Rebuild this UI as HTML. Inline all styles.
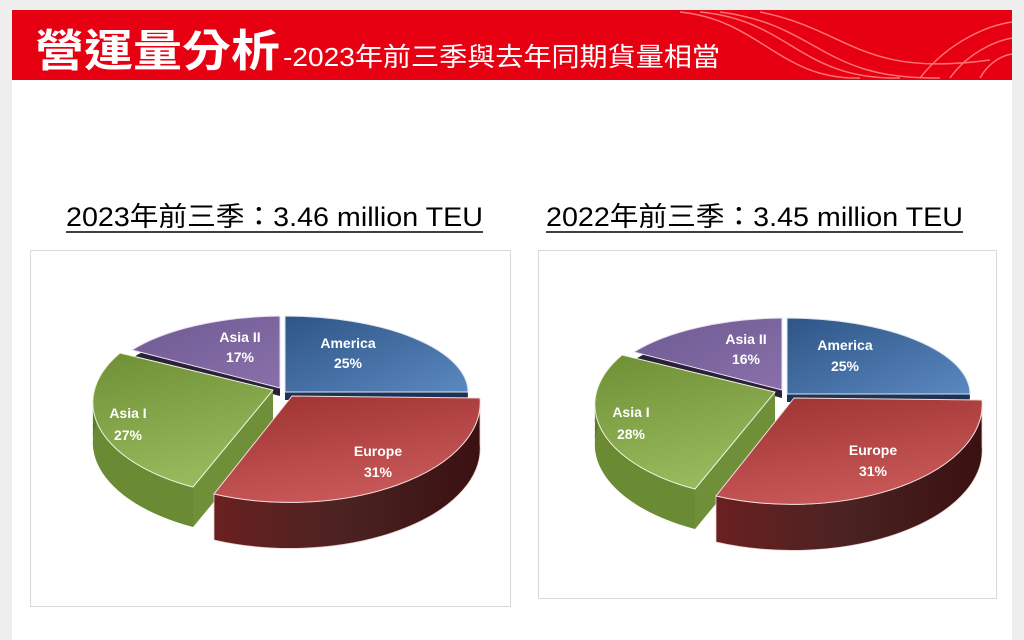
<!DOCTYPE html>
<html><head><meta charset="utf-8"><style>
body{margin:0;width:1024px;height:640px;background:#eeeeee;overflow:hidden;font-family:"Liberation Sans","Noto Sans CJK TC",sans-serif}
</style></head><body>
<svg width="1024" height="640" xmlns="http://www.w3.org/2000/svg" style="position:absolute;left:0;top:0">
<defs>
<linearGradient id="am" x1="0" y1="0" x2="1" y2="1"><stop offset="0" stop-color="#2f5586"/><stop offset="1" stop-color="#5a88c0"/></linearGradient>
<linearGradient id="eu" x1="0" y1="0" x2="0.4" y2="1"><stop offset="0" stop-color="#9c3230"/><stop offset="1" stop-color="#c85858"/></linearGradient>
<linearGradient id="eus" x1="0" y1="0" x2="1" y2="0"><stop offset="0" stop-color="#6a2020"/><stop offset="0.5" stop-color="#4a2222"/><stop offset="1" stop-color="#3a1010"/></linearGradient>
<linearGradient id="a1" x1="0" y1="0" x2="0.3" y2="1"><stop offset="0" stop-color="#6f8f35"/><stop offset="1" stop-color="#98b85c"/></linearGradient>
<linearGradient id="a2" x1="0" y1="0" x2="1" y2="1"><stop offset="0" stop-color="#6e5a92"/><stop offset="1" stop-color="#8a70aa"/></linearGradient>
<g id="pie">
 <g fill="#1c3354"><path id="amS" d="M285,392 L285,316 A183,76 0 0 1 468,392 Z"/></g>
 <use href="#amS" y="4" fill="#1c3354"/><use href="#amS" y="8" fill="#1c3354"/>
 <path d="M285,392 L285,316 A183,76 0 0 1 468,392 Z" fill="url(#am)" stroke="#dfe6f0" stroke-width="1"/>
 <path d="M280,388 L132,350 A183,76 0 0 1 280,316 Z" fill="#2a2038" transform="translate(0,8)"/>
 <path d="M280,388 L132,350 A183,76 0 0 1 280,316 Z" fill="url(#a2)" stroke="#e8e0f0" stroke-width="1"/>
 <g fill="#5c7a2c">
 <path id="a1s" d="M273,390 L193,487 A185,95 0 0 1 120,353 Z"/>
 </g>
 <use href="#a1s" y="8" fill="#5c7a2c"/><use href="#a1s" y="16" fill="#5c7a2c"/><use href="#a1s" y="24" fill="#5c7a2c"/><use href="#a1s" y="32" fill="#5c7a2c"/><use href="#a1s" y="40" fill="#6a8a34"/>
 <path d="M273,390 L193,487 L193,527 L273,430 Z" fill="#6f8f38"/>
 <path d="M273,390 L193,487 A185,95 0 0 1 120,353 Z" fill="url(#a1)" stroke="#eef4e0" stroke-width="1"/>
 <path d="M480,398 A190,100 0 0 1 214,494 L214,540 A190,100 0 0 0 480,444 Z" fill="url(#eus)" stroke="#e8d0d0" stroke-width="0.8"/>
 <path d="M292,396 L480,398 A190,100 0 0 1 214,494 Z" fill="url(#eu)" stroke="#f4dcdc" stroke-width="1"/>
</g>
</defs>
<rect x="12" y="10" width="1000" height="630" fill="#ffffff"/>
<rect x="12" y="10" width="1000" height="70" fill="#e60012"/>
<g fill="none" stroke="#ff8080" stroke-width="1.5" opacity="0.9">
 <path d="M680,12 C760,20 780,80 860,78"/>
 <path d="M700,12 C790,20 800,80 900,78"/>
 <path d="M720,12 C820,25 820,80 940,78"/>
 <path d="M760,12 C850,30 860,78 990,60"/>
 <path d="M920,78 C950,40 990,25 1012,22"/>
 <path d="M950,78 C970,50 1000,40 1012,38"/>
 <path d="M980,78 C990,60 1005,55 1012,54"/>
</g>
<text x="35" y="66" fill="#fff" font-size="44" font-weight="bold" textLength="245" lengthAdjust="spacingAndGlyphs" font-family="'Noto Sans CJK TC',sans-serif">營運量分析</text>
<text x="283" y="66" fill="#fff" font-size="26" textLength="437" lengthAdjust="spacingAndGlyphs" font-family="'Liberation Sans','Noto Sans CJK TC',sans-serif">-2023年前三季與去年同期貨量相當</text>
<text x="66" y="226" font-size="27" fill="#000" textLength="417" lengthAdjust="spacingAndGlyphs">2023年前三季：3.46 million TEU</text>
<line x1="66" y1="232" x2="483" y2="232" stroke="#000" stroke-width="1.5"/>
<text x="546" y="226" font-size="27" fill="#000" textLength="417" lengthAdjust="spacingAndGlyphs">2022年前三季：3.45 million TEU</text>
<line x1="546" y1="232" x2="963" y2="232" stroke="#000" stroke-width="1.5"/>
<rect x="30.5" y="250.5" width="480" height="356" fill="#fff" stroke="#d8d8d8"/>
<rect x="538.5" y="250.5" width="458" height="348" fill="#fff" stroke="#d8d8d8"/>
<use href="#pie"/>
<use href="#pie" x="502" y="2"/>
<g fill="#fff" font-weight="bold" font-size="14" text-anchor="middle">
<text x="348" y="348">America</text><text x="348" y="368">25%</text>
<text x="240" y="342">Asia II</text><text x="240" y="362">17%</text>
<text x="128" y="418">Asia I</text><text x="128" y="440">27%</text>
<text x="378" y="456">Europe</text><text x="378" y="477">31%</text>
<text x="845" y="350">America</text><text x="845" y="371">25%</text>
<text x="746" y="344">Asia II</text><text x="746" y="364">16%</text>
<text x="631" y="417">Asia I</text><text x="631" y="439">28%</text>
<text x="873" y="455">Europe</text><text x="873" y="476">31%</text>
</g>
</svg>
</body></html>
